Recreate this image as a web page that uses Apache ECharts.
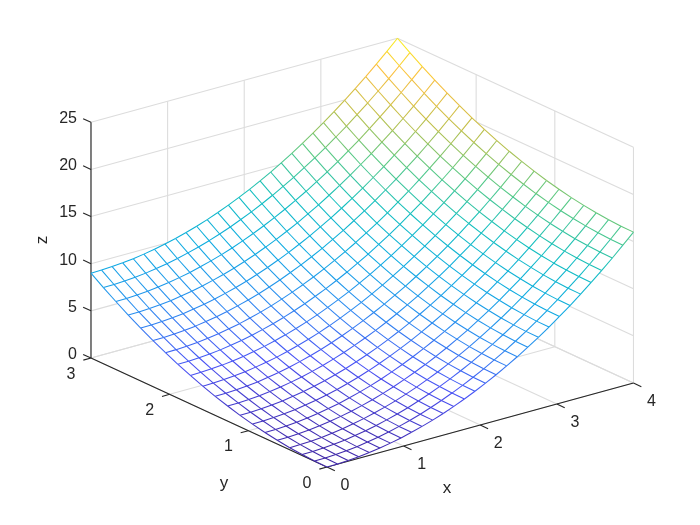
<!DOCTYPE html>
<html>
<head>
<meta charset="utf-8">
<title>mesh</title>
<script src="https://cdn.jsdelivr.net/npm/echarts@6/dist/echarts.min.js"></script>
<style>
  html, body { margin: 0; padding: 0; background: #fff; }
  #main { width: 700px; height: 525px; }
</style>
</head>
<body>
<div id="main"></div>
<script>
// mesh samples
const xValues = [0, 0.138, 0.276, 0.414, 0.552, 0.69, 0.828, 0.966, 1.103, 1.241, 1.379, 1.517, 1.655, 1.793, 1.931, 2.069, 2.207, 2.345, 2.483, 2.621, 2.759, 2.897, 3.034, 3.172, 3.31, 3.448, 3.586, 3.724, 3.862, 4];
const yValues = [0, 0.158, 0.316, 0.474, 0.632, 0.789, 0.947, 1.105, 1.263, 1.421, 1.579, 1.737, 1.895, 2.053, 2.211, 2.368, 2.526, 2.684, 2.842, 3];
// one row per y, one column per x
const zValues = [
  [0, 0.02, 0.08, 0.17, 0.3, 0.48, 0.69, 0.93, 1.22, 1.54, 1.9, 2.3, 2.74, 3.22, 3.73, 4.28, 4.87, 5.5, 6.16, 6.87, 7.61, 8.39, 9.21, 10.06, 10.96, 11.89, 12.86, 13.87, 14.92, 16],
  [0.02, 0.04, 0.1, 0.19, 0.32, 0.5, 0.71, 0.95, 1.24, 1.56, 1.92, 2.32, 2.76, 3.24, 3.75, 4.3, 4.89, 5.52, 6.18, 6.89, 7.63, 8.41, 9.23, 10.08, 10.98, 11.91, 12.88, 13.89, 14.94, 16.02],
  [0.1, 0.12, 0.18, 0.27, 0.4, 0.58, 0.79, 1.03, 1.32, 1.64, 2, 2.4, 2.84, 3.32, 3.83, 4.38, 4.97, 5.6, 6.26, 6.97, 7.71, 8.49, 9.31, 10.16, 11.06, 11.99, 12.96, 13.97, 15.02, 16.1],
  [0.22, 0.24, 0.3, 0.39, 0.52, 0.7, 0.91, 1.15, 1.44, 1.76, 2.12, 2.52, 2.96, 3.44, 3.95, 4.5, 5.09, 5.72, 6.38, 7.09, 7.83, 8.61, 9.43, 10.28, 11.18, 12.11, 13.08, 14.09, 15.14, 16.22],
  [0.4, 0.42, 0.48, 0.57, 0.7, 0.88, 1.09, 1.33, 1.62, 1.94, 2.3, 2.7, 3.14, 3.62, 4.13, 4.68, 5.27, 5.9, 6.56, 7.27, 8.01, 8.79, 9.61, 10.46, 11.36, 12.29, 13.26, 14.27, 15.32, 16.4],
  [0.62, 0.64, 0.7, 0.79, 0.92, 1.1, 1.31, 1.55, 1.84, 2.16, 2.52, 2.92, 3.36, 3.84, 4.35, 4.9, 5.49, 6.12, 6.78, 7.49, 8.23, 9.01, 9.83, 10.68, 11.58, 12.51, 13.48, 14.49, 15.54, 16.62],
  [0.9, 0.92, 0.98, 1.07, 1.2, 1.38, 1.59, 1.83, 2.12, 2.44, 2.8, 3.2, 3.64, 4.12, 4.63, 5.18, 5.77, 6.4, 7.06, 7.77, 8.51, 9.29, 10.11, 10.96, 11.86, 12.79, 13.76, 14.77, 15.82, 16.9],
  [1.22, 1.24, 1.3, 1.39, 1.52, 1.7, 1.91, 2.15, 2.44, 2.76, 3.12, 3.52, 3.96, 4.44, 4.95, 5.5, 6.09, 6.72, 7.38, 8.09, 8.83, 9.61, 10.43, 11.28, 12.18, 13.11, 14.08, 15.09, 16.14, 17.22],
  [1.6, 1.62, 1.68, 1.77, 1.9, 2.08, 2.29, 2.53, 2.82, 3.14, 3.5, 3.9, 4.34, 4.82, 5.33, 5.88, 6.47, 7.1, 7.76, 8.47, 9.21, 9.99, 10.81, 11.66, 12.56, 13.49, 14.46, 15.47, 16.52, 17.6],
  [2.02, 2.04, 2.1, 2.19, 2.32, 2.5, 2.71, 2.95, 3.24, 3.56, 3.92, 4.32, 4.76, 5.24, 5.75, 6.3, 6.89, 7.52, 8.18, 8.89, 9.63, 10.41, 11.23, 12.08, 12.98, 13.91, 14.88, 15.89, 16.94, 18.02],
  [2.49, 2.51, 2.57, 2.66, 2.79, 2.97, 3.18, 3.42, 3.71, 4.03, 4.39, 4.79, 5.23, 5.71, 6.22, 6.77, 7.36, 7.99, 8.65, 9.36, 10.1, 10.88, 11.7, 12.55, 13.45, 14.38, 15.35, 16.36, 17.41, 18.49],
  [3.02, 3.04, 3.1, 3.19, 3.32, 3.5, 3.71, 3.95, 4.24, 4.56, 4.92, 5.32, 5.76, 6.24, 6.75, 7.3, 7.89, 8.52, 9.18, 9.89, 10.63, 11.41, 12.23, 13.08, 13.98, 14.91, 15.88, 16.89, 17.94, 19.02],
  [3.59, 3.61, 3.67, 3.76, 3.89, 4.07, 4.28, 4.52, 4.81, 5.13, 5.49, 5.89, 6.33, 6.81, 7.32, 7.87, 8.46, 9.09, 9.75, 10.46, 11.2, 11.98, 12.8, 13.65, 14.55, 15.48, 16.45, 17.46, 18.51, 19.59],
  [4.21, 4.23, 4.29, 4.38, 4.51, 4.69, 4.9, 5.14, 5.43, 5.75, 6.11, 6.51, 6.95, 7.43, 7.94, 8.49, 9.08, 9.71, 10.37, 11.08, 11.82, 12.6, 13.42, 14.27, 15.17, 16.1, 17.07, 18.08, 19.13, 20.21],
  [4.89, 4.91, 4.97, 5.06, 5.19, 5.37, 5.58, 5.82, 6.11, 6.43, 6.79, 7.19, 7.63, 8.11, 8.62, 9.17, 9.76, 10.39, 11.05, 11.76, 12.5, 13.28, 14.1, 14.95, 15.85, 16.78, 17.75, 18.76, 19.81, 20.89],
  [5.61, 5.63, 5.69, 5.78, 5.91, 6.09, 6.3, 6.54, 6.83, 7.15, 7.51, 7.91, 8.35, 8.83, 9.34, 9.89, 10.48, 11.11, 11.77, 12.48, 13.22, 14, 14.82, 15.67, 16.57, 17.5, 18.47, 19.48, 20.53, 21.61],
  [6.38, 6.4, 6.46, 6.55, 6.68, 6.86, 7.07, 7.31, 7.6, 7.92, 8.28, 8.68, 9.12, 9.6, 10.11, 10.66, 11.25, 11.88, 12.54, 13.25, 13.99, 14.77, 15.59, 16.44, 17.34, 18.27, 19.24, 20.25, 21.3, 22.38],
  [7.21, 7.23, 7.29, 7.38, 7.51, 7.69, 7.9, 8.14, 8.43, 8.75, 9.11, 9.51, 9.95, 10.43, 10.94, 11.49, 12.08, 12.71, 13.37, 14.08, 14.82, 15.6, 16.42, 17.27, 18.17, 19.1, 20.07, 21.08, 22.13, 23.21],
  [8.08, 8.1, 8.16, 8.25, 8.38, 8.56, 8.77, 9.01, 9.3, 9.62, 9.98, 10.38, 10.82, 11.3, 11.81, 12.36, 12.95, 13.58, 14.24, 14.95, 15.69, 16.47, 17.29, 18.14, 19.04, 19.97, 20.94, 21.95, 23, 24.08],
  [9, 9.02, 9.08, 9.17, 9.3, 9.48, 9.69, 9.93, 10.22, 10.54, 10.9, 11.3, 11.74, 12.22, 12.73, 13.28, 13.87, 14.5, 15.16, 15.87, 16.61, 17.39, 18.21, 19.06, 19.96, 20.89, 21.86, 22.87, 23.92, 25]
];
const xTicks = [0, 1, 2, 3, 4];
const yTicks = [0, 1, 2, 3];
const zTicks = [0, 5, 10, 15, 20, 25];

// parula, sampled
const parula = [
  [62, 38, 168], [72, 80, 245], [40, 140, 240], [10, 170, 225],
  [15, 190, 190], [85, 200, 130], [190, 190, 70], [250, 190, 60], [249, 251, 21]
];
const FONT = '"Liberation Sans", Arial, sans-serif';
const TEXT_COLOR = '#262626';
const GRID_COLOR = '#dcdcdc';

// oblique projection of the view used in the picture, onto the hidden pixel axes
function project(x, y, z) {
  return [327 + 76.62 * x - 78.67 * y, 467 - 21 * x - 36.33 * y - 9.43 * z];
}

function parulaColor(z) {
  let t = Math.min(1, Math.max(0, z / 25)) * (parula.length - 1);
  let k = Math.min(parula.length - 2, Math.floor(t));
  let c = parula[k].map((v, n) => Math.round(v + (parula[k + 1][n] - v) * (t - k)));
  return 'rgb(' + c.join(',') + ')';
}

// walls and floor of the box
let xMax = xTicks[xTicks.length - 1], yMax = yTicks[yTicks.length - 1], zMax = zTicks[zTicks.length - 1];
let gridSegs = [];
xTicks.forEach(function(x) {
  gridSegs.push([x, 0, 0, x, yMax, 0]);
  gridSegs.push([x, yMax, 0, x, yMax, zMax]);
});
yTicks.forEach(function(y) {
  gridSegs.push([0, y, 0, xMax, y, 0]);
  gridSegs.push([xMax, y, 0, xMax, y, zMax]);
});
zTicks.forEach(function(z) {
  gridSegs.push([0, yMax, z, xMax, yMax, z]);
  gridSegs.push([xMax, yMax, z, xMax, 0, z]);
});

// axis lines and tick marks
let axisSegs = [
  [0, 0, 0, xMax, 0, 0],
  [0, 0, 0, 0, yMax, 0],
  [0, yMax, 0, 0, yMax, zMax]
];
xTicks.forEach(function(x) { axisSegs.push([x, 0, 0, x, -0.1, 0]); });
yTicks.forEach(function(y) { axisSegs.push([0, y, 0, -0.1, y, 0]); });
zTicks.forEach(function(z) { axisSegs.push([0, yMax, z, 0, yMax + 0.1, z]); });

// mesh edges
let meshSegs = [];
yValues.forEach(function(y, j) {
  xValues.forEach(function(x, i) {
    if (i < xValues.length - 1) meshSegs.push([x, y, zValues[j][i], xValues[i + 1], y, zValues[j][i + 1]]);
    if (j < yValues.length - 1) meshSegs.push([x, y, zValues[j][i], x, yValues[j + 1], zValues[j + 1][i]]);
  });
});

// outline of the surface, filled white so it hides the box behind it
let outline = [];
let lastI = xValues.length - 1, lastJ = yValues.length - 1;
xValues.forEach(function(x, i) { outline.push([x, yValues[0], zValues[0][i]]); });
yValues.forEach(function(y, j) { outline.push([xValues[lastI], y, zValues[j][lastI]]); });
for (let i = lastI; i >= 0; i--) outline.push([xValues[i], yValues[lastJ], zValues[lastJ][i]]);
for (let j = lastJ; j >= 0; j--) outline.push([xValues[0], yValues[j], zValues[j][0]]);

// tick labels: offset from the tick's spot, in pixels
let tickLabels = [];
xTicks.forEach(function(x) { tickLabels.push({ p: [x, 0, 0], text: String(x), dx: 18, dy: 18.2, align: 'center' }); });
yTicks.forEach(function(y) { tickLabels.push({ p: [0, y, 0], text: String(y), dx: -20, dy: 16.3, align: 'center' }); });
zTicks.forEach(function(z) { tickLabels.push({ p: [0, yMax, z], text: String(z), dx: -14, dy: -3.6, align: 'right' }); });

function segSeries(data, z, styleFn) {
  return {
    type: 'custom',
    coordinateSystem: 'cartesian2d',
    silent: true,
    animation: false,
    progressive: 0,
    z: z,
    clip: false,
    data: data,
    renderItem: function(params, api) {
      let s = data[params.dataIndex];
      let a = api.coord(project(s[0], s[1], s[2]));
      let b = api.coord(project(s[3], s[4], s[5]));
      return {
        type: 'line',
        shape: { x1: a[0], y1: a[1], x2: b[0], y2: b[1] },
        style: styleFn(s)
      };
    }
  };
}

let chart = echarts.init(document.getElementById('main'), null, { renderer: 'canvas' });
chart.setOption({
  animation: false,
  backgroundColor: '#fff',
  grid: { left: 0, right: 0, top: 0, bottom: 0 },
  xAxis: { type: 'value', min: 0, max: 700, show: false },
  yAxis: { type: 'value', min: 0, max: 525, inverse: true, show: false },
  series: [
    segSeries(gridSegs, 1, function() { return { stroke: GRID_COLOR, lineWidth: 1.1 }; }),
    segSeries(axisSegs, 2, function() { return { stroke: TEXT_COLOR, lineWidth: 1.1 }; }),
    {
      type: 'custom',
      coordinateSystem: 'cartesian2d',
      silent: true,
      animation: false,
      z: 3,
      clip: false,
      data: [0],
      renderItem: function(params, api) {
        return {
          type: 'polygon',
          shape: { points: outline.map(function(p) { return api.coord(project(p[0], p[1], p[2])); }) },
          style: { fill: '#fff', stroke: null }
        };
      }
    },
    segSeries(meshSegs, 4, function(s) { return { stroke: parulaColor(s[2]), lineWidth: 1.05 }; }),
    {
      type: 'custom',
      coordinateSystem: 'cartesian2d',
      silent: true,
      animation: false,
      z: 5,
      clip: false,
      data: tickLabels.map(function(d, i) { return i; }),
      renderItem: function(params, api) {
        let d = tickLabels[params.dataIndex];
        let c = api.coord(project(d.p[0], d.p[1], d.p[2]));
        return {
          type: 'text',
          x: c[0] + d.dx,
          y: c[1] + d.dy,
          style: {
            text: d.text,
            fill: TEXT_COLOR,
            fontFamily: FONT,
            fontSize: 16,
            align: d.align,
            verticalAlign: 'middle'
          }
        };
      }
    }
  ],
  graphic: [
    { type: 'text', x: 447, y: 488.5, z: 10, style: { text: 'x', fill: TEXT_COLOR, fontFamily: FONT, fontSize: 17, align: 'center', verticalAlign: 'middle' } },
    { type: 'text', x: 224, y: 483, z: 10, style: { text: 'y', fill: TEXT_COLOR, fontFamily: FONT, fontSize: 17, align: 'center', verticalAlign: 'middle' } },
    { type: 'text', x: 42, y: 240, rotation: Math.PI / 2, z: 10, style: { text: 'z', fill: TEXT_COLOR, fontFamily: FONT, fontSize: 17, align: 'center', verticalAlign: 'middle' } }
  ]
});
</script>
</body>
</html>
